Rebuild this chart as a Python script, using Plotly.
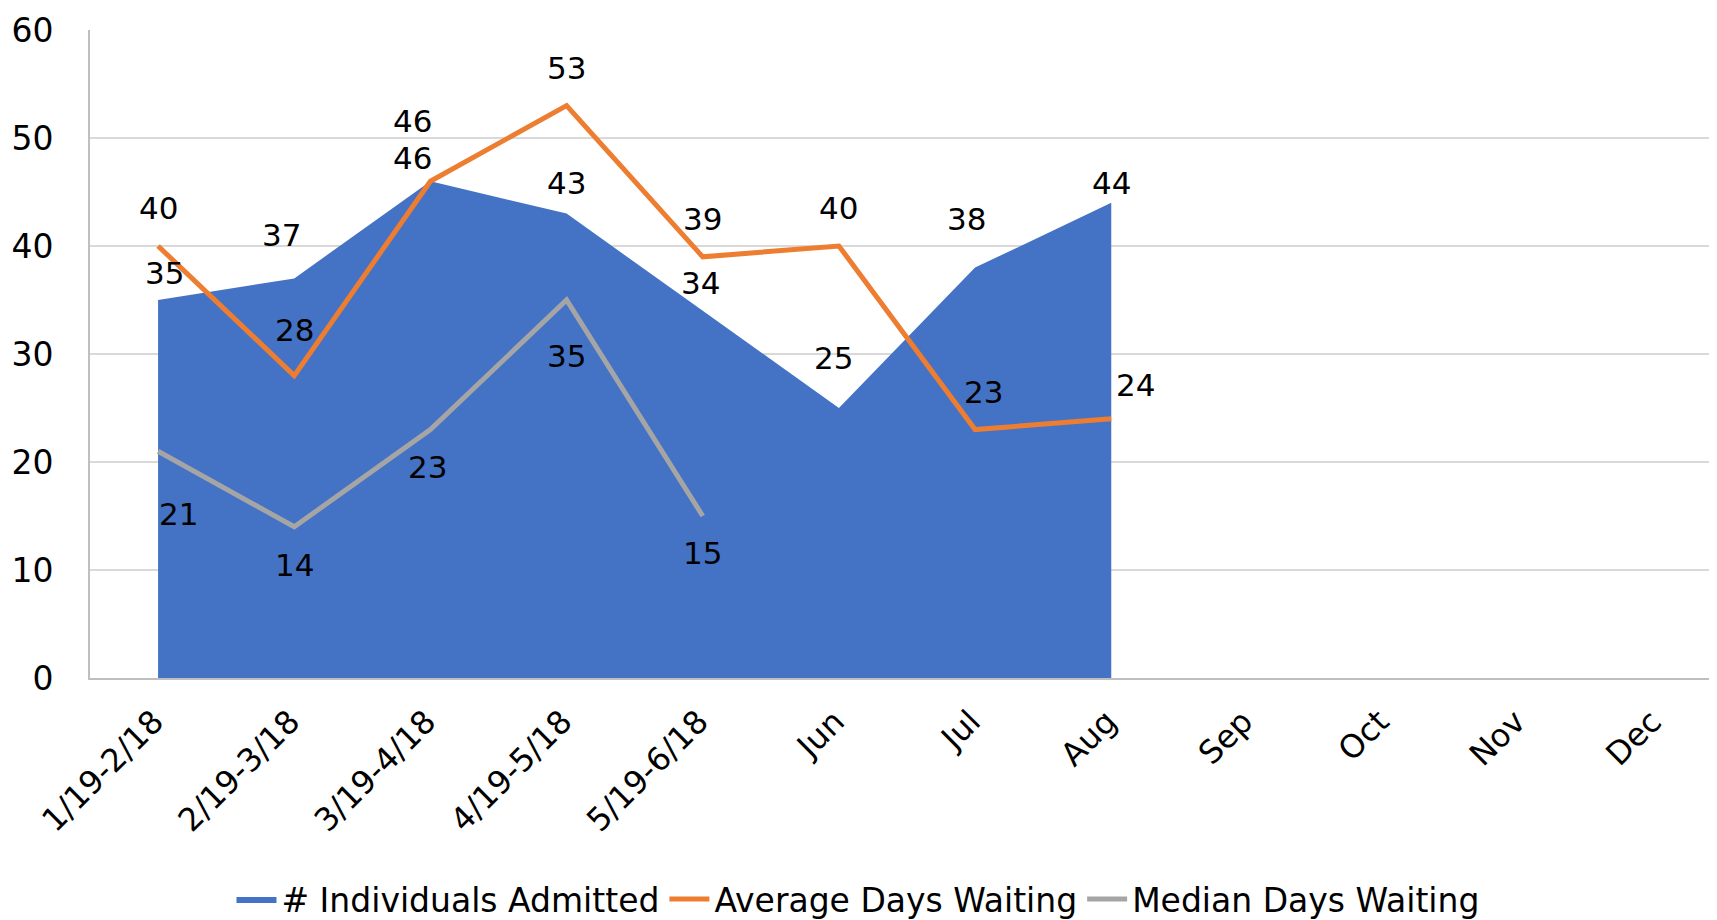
import plotly.graph_objects as go

categories = ["1/19-2/18", "2/19-3/18", "3/19-4/18", "4/19-5/18", "5/19-6/18",
              "Jun", "Jul", "Aug", "Sep", "Oct", "Nov", "Dec"]
admitted = [35, 37, 46, 43, 34, 25, 38, 44]
avg_wait = [40, 28, 46, 53, 39, 40, 23, 24]
median_wait = [21, 14, 23, 35, 15]
y_ticks = [0, 10, 20, 30, 40, 50, 60]

# data-label pixel offsets (style only)
adm_dx = [6, -13, -18, 0, -2, -5, -9, 0]
adm_dy = [27, 43, 23, 31, 28, 50, 49, 20]
avg_dx = [0, 0, -18, 0, 0, 0, 8, 24]
avg_dy = [38, 46, 60, 38, 38, 38, 38, 34]
med_dx = [20, 0, -3, 0, 0]
med_dy = [-63, -38, -37, -56, -37]

FONT = "DejaVu Sans"
FS = 31

fig = go.Figure()
fig.add_trace(go.Scatter(
    x=categories[:len(admitted)], y=admitted, name="# Individuals Admitted",
    mode="lines", fill="tozeroy", fillcolor="#4472C4",
    line=dict(width=0, color="#4472C4")))
fig.add_trace(go.Scatter(
    x=categories[:len(avg_wait)], y=avg_wait, name="Average Days Waiting",
    mode="lines", line=dict(width=5, color="#ED7D31")))
fig.add_trace(go.Scatter(
    x=categories[:len(median_wait)], y=median_wait, name="Median Days Waiting",
    mode="lines", line=dict(width=5, color="#A5A5A5")))

for vals, dxs, dys in [(admitted, adm_dx, adm_dy), (avg_wait, avg_dx, avg_dy),
                       (median_wait, med_dx, med_dy)]:
    for i, v in enumerate(vals):
        fig.add_annotation(x=categories[i], y=v, text=str(v), showarrow=False,
                           xshift=dxs[i], yshift=dys[i],
                           font=dict(size=FS, family=FONT, color="black"))

fig.update_layout(
    width=1717, height=920,
    margin=dict(l=82, r=1, t=22, b=244),
    paper_bgcolor="white", plot_bgcolor="white",
    font=dict(family=FONT, size=FS, color="black"),
    showlegend=True,
    legend=dict(orientation="h", x=0.470, xanchor="center", y=-0.341, yanchor="middle",
                font=dict(size=33, family=FONT), itemwidth=40, tracegroupgap=0),
)
fig.update_xaxes(
    type="category", categoryorder="array", categoryarray=categories,
    tickvals=categories, range=[-0.5, 11.5], automargin=False,
    tickangle=-45, showgrid=False, showline=True, linecolor="#BFBFBF", linewidth=2,
    ticks="", ticklabelstandoff=10, ticklabelshift=-4, tickfont=dict(size=32, family=FONT))
fig.update_yaxes(
    range=[0, 60], tickvals=y_ticks, showgrid=True, gridcolor="#D9D9D9", gridwidth=1.5,
    showline=True, linecolor="#BFBFBF", linewidth=2, ticks="", zeroline=False,
    automargin=False, ticklabelstandoff=28, tickfont=dict(size=33, family=FONT))

fig.write_html("out.html")
